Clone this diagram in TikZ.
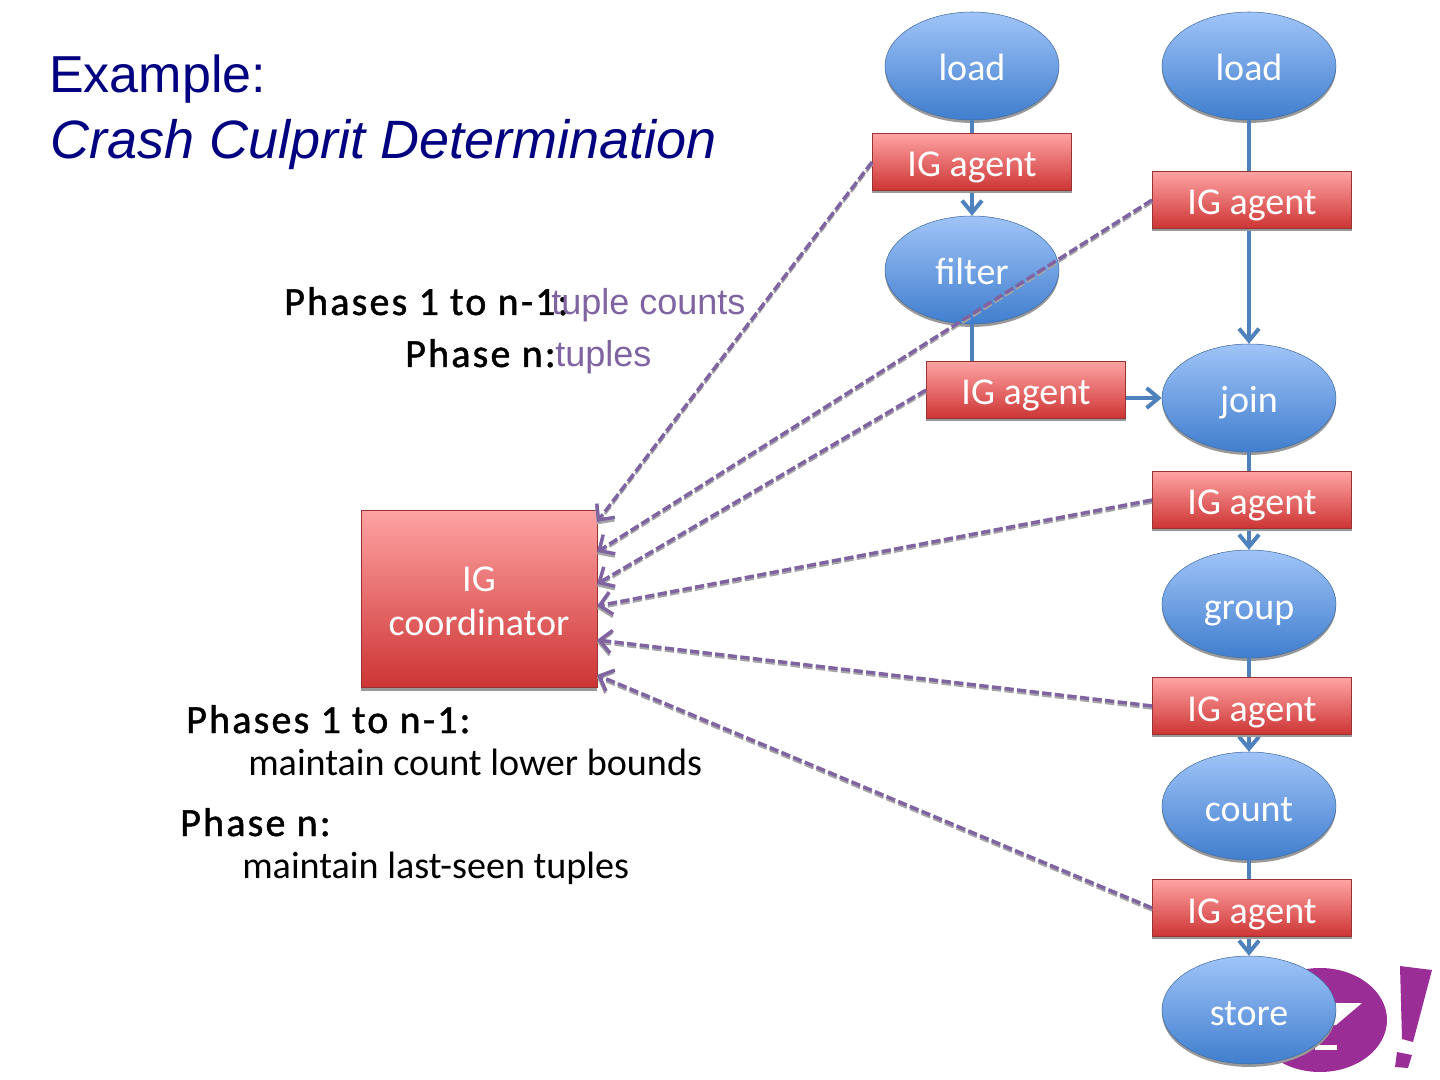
\documentclass[tikz,border=0pt]{standalone}
\usepackage{fontspec}
\usetikzlibrary{arrows.meta,shadows,shapes.geometric}
\setmainfont{Carlito}
\newfontfamily\titlefont{Liberation Sans}
\newfontfamily\headfont[FakeBold=1.2,LetterSpace=5.5]{Carlito}
\definecolor{navy}{RGB}{0,0,128}
\definecolor{flow}{RGB}{79,129,189}
\definecolor{report}{RGB}{128,100,162}
\definecolor{yahoo}{RGB}{155,45,150}
\definecolor{blobtop}{RGB}{160,196,248}
\definecolor{blobbot}{RGB}{64,126,206}
\definecolor{boxtop}{RGB}{255,163,163}
\definecolor{boxbot}{RGB}{205,52,52}
\tikzset{
  blob/.style={ellipse,draw=flow!85!black,top color=blobtop,bottom color=blobbot,
    minimum width=130.5pt,minimum height=81pt,inner sep=0pt,text=white,font=\fontsize{28.5}{28.5}\selectfont,
    text height=22.5pt,text depth=0pt,
    drop shadow={shadow xshift=0pt,shadow yshift=-2.2pt,fill=black!40,opacity=1}},
  agent/.style={rectangle,draw=red!50!black!80,top color=boxtop,bottom color=boxbot,
    minimum width=149.5pt,minimum height=42.5pt,inner sep=0pt,text=white,font=\fontsize{28.5}{28.5}\selectfont,
    text height=22.5pt,text depth=0pt,
    drop shadow={shadow xshift=0pt,shadow yshift=-2.2pt,fill=black!40,opacity=1}},
  flowline/.style={draw=flow,line width=3pt,-{Straight Barb[length=9pt,width=15pt]}},
  reportline/.style={draw=report,line width=2.6pt,dash pattern=on 7pt off 2.5pt,-{Straight Barb[length=9pt,width=17pt]}},
  reportshade/.style={draw=black!35,line width=2pt,dash pattern=on 7pt off 2.5pt,-{Straight Barb[length=9pt,width=17pt]}},
  label/.style={anchor=base west,inner sep=0pt,font=\fontsize{28.6}{28.6}\selectfont},
  headlabel/.style={anchor=base west,inner sep=0pt,font=\fontsize{30}{30}\headfont},
  purplelabel/.style={anchor=base west,inner sep=0pt,text=report,font=\fontsize{27}{27}\titlefont},
}
\begin{document}
\begin{tikzpicture}[x=0.75pt,y=-0.75pt]
\useasboundingbox (0,0) rectangle (1440,1080);

% logo
\fill[yahoo] (1320,1020) ellipse (67 and 52);
\fill[white] (1330,1003) -- (1362,1003) -- (1336,1025) -- (1320,1025) -- cycle;
\fill[white] (1315,1045) -- (1337,1045) -- (1337,1050) -- (1315,1050) -- cycle;
\fill[yahoo] (1400,966) -- (1432,970) -- (1413,1042) -- (1402,1039) -- cycle;
\fill[yahoo] (1397,1052) -- (1412,1055) -- (1408,1068) -- (1395,1067) -- cycle;

% title
\node[anchor=base west,inner sep=0pt,text=navy,font=\fontsize{39}{39}\titlefont] (title1) at (49,93) {Example:};
\node[anchor=base west,inner sep=0pt,text=navy,font=\fontsize{40.5}{40.5}\titlefont\itshape] (title2) at (50,159) {Crash Culprit Determination};

% operators
\begin{scope}[every node/.style={blob}]
  \node (load1) at (972,66) {load};
  \node (filter) at (972,270) {filter};
  \node (load2) at (1249,66) {load};
  \node (join) at (1249,398) {join};
  \node (group) at (1249,604) {group};
  \node (count) at (1249,806) {count};
  \node (store) at (1249,1010) {store};
\end{scope}

% data flow
\begin{scope}[every path/.style={flowline}]
  \path (load1) -- (filter);
  \path (load2) -- (join);
  \path (filter.south) |- (join.west);
  \path (join) -- (group);
  \path (group) -- (count);
  \path (count) -- (store);
\end{scope}

% agents
\begin{scope}[every node/.style={agent}]
  \node (agent1) at (972,162) {IG agent};
  \node (agent2) at (1252,200) {IG agent};
  \node (agent3) at (1026,390) {IG agent};
  \node (agent4) at (1252,500) {IG agent};
  \node (agent5) at (1252,706) {IG agent};
  \node (agent6) at (1252,908) {IG agent};
  \node[minimum width=177pt,minimum height=133pt,align=center,font=\fontsize{28.5}{33}\selectfont,
    text height=,text depth=] (coord) at (479,599) {\rule{0pt}{22pt}IG\\coordinator};
\end{scope}

\coordinate (in1) at (597,522);
\coordinate (in2) at (597,552);
\coordinate (in3) at (597,584);
\coordinate (in4) at (597,606);
\coordinate (in5) at (597,640);
\coordinate (in6) at (597,675);

% reports
\foreach \a/\b in {agent1/in1,agent2/in2,agent3/in3,agent4/in4,agent5/in5,agent6/in6} {
  \draw[reportshade,transform canvas={yshift=-1.8pt}] (\a.west) -- (\b);
  \draw[reportline] (\a.west) -- (\b);
}

% labels
\node[headlabel] (ph1) at (284,315) {Phases 1 to n-1:};
\node[purplelabel] (ph1b) at (551,315) {tuple counts};
\node[headlabel] (ph2) at (405,367) {Phase n:};
\node[purplelabel] (ph2b) at (555,367) {tuples};
\node[headlabel] (ph3) at (186,733) {Phases 1 to n-1:};
\node[label] (ph3b) at (248,775) {maintain count lower bounds};
\node[headlabel] (ph4) at (180,836) {Phase n:};
\node[label] (ph4b) at (242,878) {maintain last-seen tuples};
\end{tikzpicture}
\end{document}
